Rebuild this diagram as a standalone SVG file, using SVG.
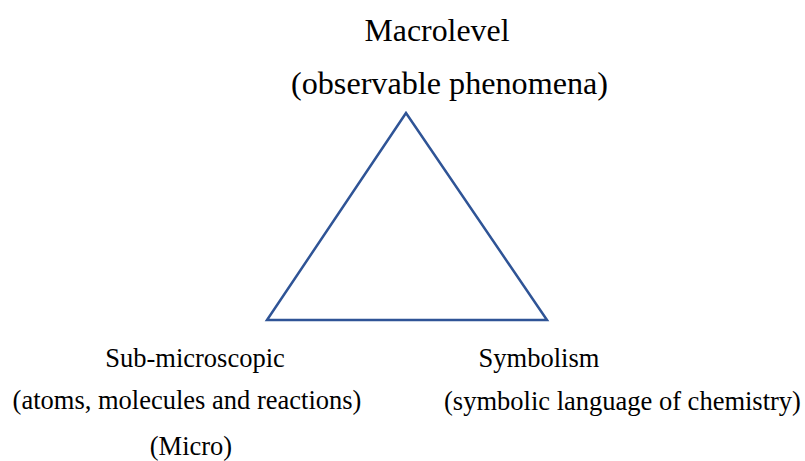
<svg xmlns="http://www.w3.org/2000/svg" width="805" height="461" viewBox="0 0 805 461">
<style>
.t{font-family:"Liberation Serif","Times New Roman",serif;fill:#000;text-anchor:middle}
.top{font-size:31px}
.bot{font-size:26.5px}
.tri{fill:none;stroke:#2F5496;stroke-width:2.5;stroke-linejoin:miter}
</style>
<rect width="805" height="461" fill="#fff"/>
<g id="connectors">
<polygon class="tri" points="406,113 267,320 547,320"/>
</g>
<g id="macro">
<text class="t top" x="437" y="41" textLength="145" lengthAdjust="spacingAndGlyphs">Macrolevel</text>
<text class="t top" x="449.5" y="94" textLength="317" lengthAdjust="spacingAndGlyphs">(observable phenomena)</text>
</g>
<g id="micro">
<text class="t bot" x="195" y="367">Sub-microscopic</text>
<text class="t bot" x="187" y="409">(atoms, molecules and reactions)</text>
<text class="t bot" x="191" y="455">(Micro)</text>
</g>
<g id="symbolic">
<text class="t bot" x="539" y="367">Symbolism</text>
<text class="t bot" x="622.5" y="410">(symbolic language of chemistry)</text>
</g>
</svg>
